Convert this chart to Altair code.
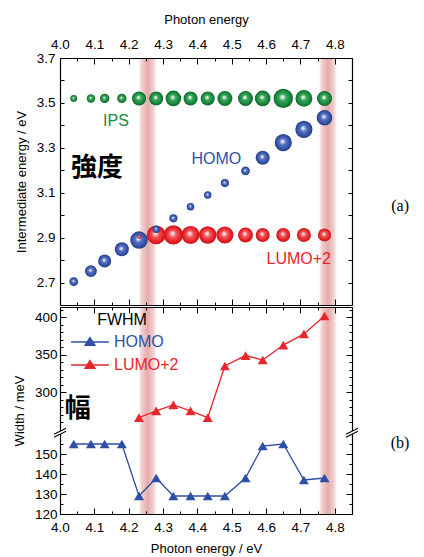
import altair as alt
import pandas as pd

# ---------------- data ----------------
photon = [4.04, 4.09, 4.13, 4.18, 4.23, 4.28, 4.33, 4.38, 4.43, 4.48, 4.54, 4.59, 4.65, 4.71, 4.77]
ips_energy = [3.52, 3.52, 3.52, 3.52, 3.52, 3.52, 3.52, 3.52, 3.52, 3.52, 3.52, 3.52, 3.52, 3.52, 3.52]
ips_intensity = [7.3, 9.0, 10.0, 10.0, 15.0, 15.0, 16.7, 15.0, 15.0, 16.0, 16.0, 16.7, 20.7, 18.0, 16.0]
homo_energy = [2.704, 2.751, 2.796, 2.848, 2.889, 2.937, 2.986, 3.038, 3.090, 3.143, 3.197, 3.256, 3.323, 3.382, 3.434]
homo_intensity = [9.3, 12.7, 14.0, 15.0, 18.7, 8.0, 8.7, 8.0, 8.0, 8.7, 9.3, 15.0, 18.3, 18.3, 16.7]
lumo_photon = [4.23, 4.28, 4.33, 4.38, 4.43, 4.48, 4.54, 4.59, 4.65, 4.71, 4.77]
lumo_energy = [2.903, 2.912, 2.912, 2.912, 2.912, 2.912, 2.912, 2.912, 2.912, 2.912, 2.912]
lumo_intensity = [4.0, 20.0, 20.7, 19.3, 18.7, 18.3, 16.0, 15.0, 15.0, 15.0, 14.0]
homo_width = [155, 155, 155, 155, 129, 138, 129, 129, 129, 129, 138, 154, 155, 137, 138]
lumo_width = [266, 275, 283, 275, 266, 335, 349, 343, 363, 378, 402]
resonance = [4.255, 4.78]

x_major = [4.0, 4.1, 4.2, 4.3, 4.4, 4.5, 4.6, 4.7, 4.8]
x_minor = [4.05, 4.15, 4.25, 4.35, 4.45, 4.55, 4.65, 4.75, 4.85]
y_top_ticks = [2.7, 2.8, 2.9, 3.0, 3.1, 3.2, 3.3, 3.4, 3.5, 3.6, 3.7]
y_bot_major = [120, 130, 140, 150, 300, 350, 400]
y_bot_minor = [125, 135, 145, 155, 260, 270, 280, 290, 310, 320, 330, 340, 360, 370, 380, 390, 410]

# ---------------- styles ----------------
FONT = "Liberation Sans"
CJK = "Noto Sans CJK JP"
GREEN, BLUE, RED = "#1a8a3c", "#2f4fa6", "#e8262b"


def sphere(light, mid, base, dark):
    return {"gradient": "radial", "x1": 0.45, "y1": 0.42, "r1": 0, "x2": 0.5, "y2": 0.5, "r2": 0.5,
            "stops": [{"offset": 0, "color": "#ffffff"}, {"offset": 0.12, "color": light},
                      {"offset": 0.36, "color": mid}, {"offset": 0.75, "color": base},
                      {"offset": 1, "color": dark}]}


g_green = sphere("#d5eedb", "#3ea45c", "#178a3e", "#0e6329")
g_blue = sphere("#d8ddf2", "#5874c4", "#3553a8", "#233b84")
g_red = sphere("#fbd6d6", "#f2585c", "#e82228", "#c4141a")

band_fill = {"gradient": "linear", "x1": 0, "y1": 0, "x2": 1, "y2": 0,
             "stops": [{"offset": 0, "color": "rgba(230,170,170,0)"},
                       {"offset": 0.25, "color": "#efc6c6"},
                       {"offset": 0.5, "color": "#e4acac"},
                       {"offset": 0.75, "color": "#efc6c6"},
                       {"offset": 1, "color": "rgba(230,170,170,0)"}]}

xs = alt.Scale(domain=[4.0, 4.85], nice=False, zero=False)
ys_top = alt.Scale(domain=[2.6, 3.7], nice=False, zero=False)
ys_bot = alt.Scale(domain=[120, 160, 248, 414], range=[207, 127, 124, 0], nice=False, zero=False)


def axis(orient, values, length, label_expr=None, title=None, domain=True, z=0, lpad=4, tpad=8):
    kw = dict(orient=orient, values=values, tickSize=alt.ExprRef(f"-{length}"), grid=False,
              zindex=z, domain=domain, labelOverlap=False, labelFlush=False)
    if label_expr:
        kw.update(labelExpr=label_expr, labelPadding=lpad + length, title=title, titlePadding=tpad)
    else:
        kw.update(labels=False, title=None)
    return alt.Axis(**kw)


X_LABEL = "format(datum.value, '.1f')"
YT_LABEL = "(round(datum.value*10)%2==1) ? format(datum.value, '.1f') : ''"
YB_LABEL = "format(datum.value, 'd')"

# ---------------- top panel ----------------
band_df = pd.DataFrame({"c": resonance})
bands_base = alt.Chart(band_df).transform_calculate(lo="datum.c - 0.026", hi="datum.c + 0.026")

sph_df = pd.concat([
    pd.DataFrame({"s": "IPS", "e": photon, "v": ips_energy, "d": ips_intensity}),
    pd.DataFrame({"s": "HOMO", "e": photon, "v": homo_energy, "d": homo_intensity}),
    pd.DataFrame({"s": "LUMO+2", "e": lumo_photon, "v": lumo_energy, "d": lumo_intensity}),
], ignore_index=True)

top_bands = bands_base.mark_rect(fill=band_fill).encode(
    x=alt.X("lo:Q", scale=xs, axis=axis("bottom", x_major, 6, z=1)),
    x2="hi:Q",
)

spheres = alt.Chart(sph_df).mark_circle(opacity=1).encode(
    x=alt.X("e:Q", scale=xs, axis=axis("top", x_major, 6, X_LABEL, "Photon energy", z=1, lpad=7, tpad=11)),
    y=alt.Y("v:Q", scale=ys_top, axis=axis("left", y_top_ticks, 4, YT_LABEL, "Intermediate energy / eV", lpad=5)),
    size=alt.Size("d:Q", scale=alt.Scale(type="pow", exponent=2, domain=[0, 20], range=[0, 350]), legend=None),
    fill={"condition": [{"test": "datum.s === 'IPS'", "value": g_green},
                        {"test": "datum.s === 'HOMO'", "value": g_blue}],
          "value": g_red},
    order=alt.Order("d:Q", sort="descending"),
)


def label(x, y, text, color, size, font=FONT, weight="normal", yscale=ys_top, xaxis=None, yaxis=None):
    df = pd.DataFrame({"x": [x], "y": [y], "t": [text]})
    return alt.Chart(df).mark_text(color=color, fontSize=size, font=font, fontWeight=weight).encode(
        x=alt.X("x:Q", scale=xs, axis=xaxis),
        y=alt.Y("y:Q", scale=yscale, axis=yaxis),
        text="t:N",
    )


t_ips = label(4.163, 3.419, "IPS", GREEN, 16, xaxis=axis("bottom", x_minor, 3, domain=False, z=1))
t_homo = label(4.455, 3.25, "HOMO", BLUE, 16)
t_lumo = label(4.695, 2.805, "LUMO+2", RED, 16)
t_kyodo = label(4.108, 3.21, "強度", "black", 26, CJK, "bold",
                xaxis=axis("top", x_minor, 3, domain=False, z=1),
                yaxis=axis("right", y_top_ticks, 4))
t_a = label(4.99, 3.04, "(a)", "black", 16, "Liberation Serif")

top = alt.layer(top_bands, spheres, t_ips, t_homo, t_lumo, t_kyodo, t_a).resolve_axis(
    x="independent", y="independent").properties(width=292, height=247)

# ---------------- bottom panel ----------------
w_df = pd.concat([
    pd.DataFrame({"s": "HOMO", "e": photon, "w": homo_width}),
    pd.DataFrame({"s": "LUMO+2", "e": lumo_photon, "w": lumo_width}),
], ignore_index=True)


def series_legend(color, y, title=None):
    kw = dict(orient="none", legendX=20, legendY=y, padding=0,
              labelFont=FONT, labelFontSize=16, labelColor=color, labelOffset=14,
              symbolType="M-2.1,0H2.1M0,-0.5L0.56,0.38L-0.56,0.38Z", symbolSize=324,
              symbolStrokeWidth=1.3, symbolFillColor=color, symbolStrokeColor=color, symbolOpacity=1)
    if title:
        kw.update(title=title, titleFont=FONT, titleFontSize=16, titleFontWeight="normal",
                  titleColor="black", titlePadding=4, titleAnchor="middle")
    else:
        kw.update(title=None)
    return alt.Legend(**kw)


bot_bands = bands_base.mark_rect(fill=band_fill).encode(
    x=alt.X("lo:Q", scale=xs, axis=axis("top", x_major, 6, z=1)),
    x2="hi:Q",
)

w_lines = alt.Chart(w_df).mark_line(strokeWidth=1.3).encode(
    x=alt.X("e:Q", scale=xs, axis=axis("bottom", x_major, 6, X_LABEL, "Photon energy / eV", z=1, lpad=6, tpad=9)),
    y=alt.Y("w:Q", scale=ys_bot, axis=axis("left", y_bot_major, 6, YB_LABEL, "Width / meV", lpad=3)),
    color=alt.Color("s:N", scale=alt.Scale(domain=["HOMO", "LUMO+2"], range=[BLUE, RED]), legend=None),
)

homo_pts = alt.Chart(w_df).transform_filter("datum.s === 'HOMO'").mark_point(
    shape="triangle-up", filled=True, size=100, opacity=1).encode(
    x=alt.X("e:Q", scale=xs, axis=axis("bottom", x_minor, 3, domain=False, z=1)),
    y=alt.Y("w:Q", scale=ys_bot, axis=axis("left", y_bot_minor, 3, domain=False)),
    color=alt.Color("s:N", scale=alt.Scale(domain=["HOMO"], range=[BLUE]), legend=series_legend(BLUE, 5, "FWHM")),
)
lumo_pts = alt.Chart(w_df).transform_filter("datum.s === 'LUMO+2'").mark_point(
    shape="triangle-up", filled=True, size=100, opacity=1).encode(
    x=alt.X("e:Q", scale=xs, axis=axis("top", x_minor, 3, domain=False, z=1)),
    y=alt.Y("w:Q", scale=ys_bot, axis=axis("right", y_bot_minor, 3, domain=False)),
    color=alt.Color("s:N", scale=alt.Scale(domain=["LUMO+2"], range=[RED]), legend=series_legend(RED, 48)),
)

brk_df = pd.DataFrame({"x": [4.0, 4.85], "y": [200, 200]})
brk_fill = alt.Chart(brk_df).mark_point(
    shape="M-0.6,0.45L0.6,-0.15L0.6,-0.45L-0.6,0.15Z", filled=True, fill="white",
    size=400, opacity=1, strokeWidth=0).encode(
    x=alt.X("x:Q", scale=xs, axis=None),
    y=alt.Y("y:Q", scale=ys_bot, axis=axis("right", y_bot_major, 6)),
)
brk_lines = alt.Chart(brk_df).mark_point(
    shape="M-0.6,0.45L0.6,-0.15M-0.6,0.15L0.6,-0.45", filled=False, stroke="black",
    size=400, opacity=1, strokeWidth=1.1).encode(
    x=alt.X("x:Q", scale=xs, axis=None),
    y=alt.Y("y:Q", scale=ys_bot, axis=None),
)

t_haba = label(4.052, 278, "幅", "black", 26, CJK, "bold", yscale=ys_bot)
t_b = label(4.99, 155.5, "(b)", "black", 16, "Liberation Serif", yscale=ys_bot)

bottom = alt.layer(bot_bands, w_lines, homo_pts, lumo_pts, brk_fill, brk_lines, t_haba, t_b).resolve_axis(
    x="independent", y="independent").resolve_scale(color="independent").properties(width=292, height=207)

chart = alt.vconcat(top, bottom, spacing=0).resolve_scale(x="independent", y="independent").configure(
    font=FONT
).configure_view(stroke=None).configure_axis(
    labelFont=FONT, labelFontSize=13.5, labelColor="black", titleFont=FONT, titleFontSize=13,
    titleFontWeight="normal", titleColor="black", domainColor="black", domainWidth=1.2,
    tickColor="black", tickWidth=1,
)

chart.save("out.html", embed_options={"renderer": "svg", "actions": False})
